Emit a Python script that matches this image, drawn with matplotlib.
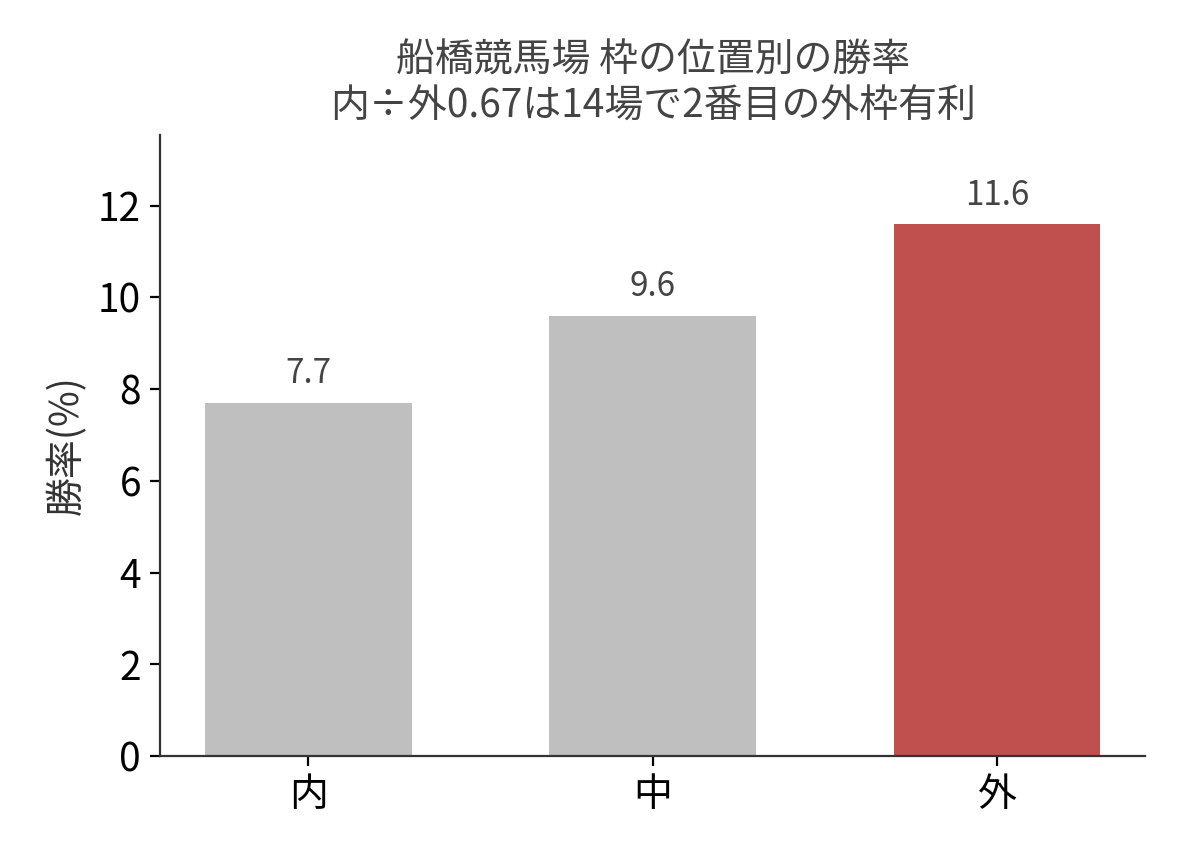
import matplotlib
matplotlib.use("Agg")
import matplotlib.pyplot as plt

plt.rcParams['font.family'] = ['Noto Sans CJK JP', 'DejaVu Sans']

categories = ['内', '中', '外']
values = [7.7, 9.6, 11.6]
colors = ['#bfbfbf', '#bfbfbf', '#c0504d']
title = '船橋競馬場 枠の位置別の勝率\n内÷外0.67は14場で2番目の外枠有利'

fig, ax = plt.subplots(figsize=(5.94, 4.29), dpi=200)
fig.subplots_adjust(left=0.135, right=0.964, top=0.843, bottom=0.119)
bars = ax.bar(categories, values, width=0.6, color=colors)
for b, v in zip(bars, values):
    ax.text(b.get_x() + b.get_width() / 2, v + 0.25, f'{v:.1f}', ha='center', va='bottom',
            fontsize=12, color='#444444')
ax.set_ylim(0, 13.55)
ax.set_yticks(range(0, 13, 2))
ax.set_ylabel('勝率(%)', fontsize=14, color='#333333')
ax.set_title(title, fontsize=14, color='#444444', linespacing=1.2)
ax.tick_params(labelsize=14)
for s in ['top', 'right']:
    ax.spines[s].set_visible(False)
for s in ['left', 'bottom']:
    ax.spines[s].set_color('#333333')
fig.savefig('out.png', dpi=200)
